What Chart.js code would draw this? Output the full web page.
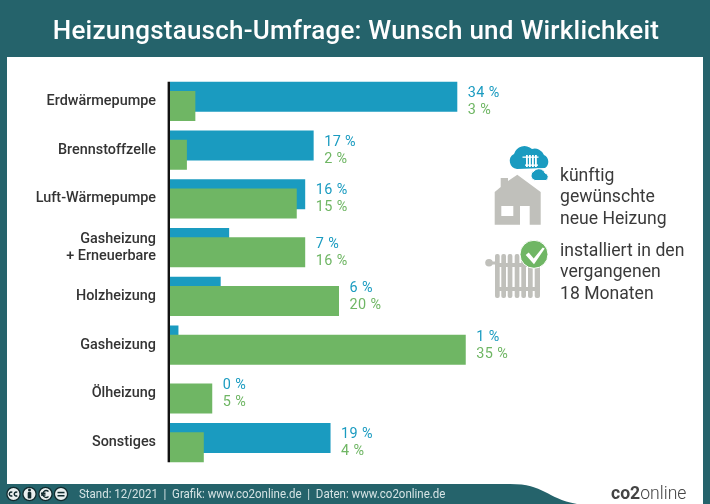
<!DOCTYPE html>
<html lang="de"><head><meta charset="utf-8">
<script src="https://cdn.jsdelivr.net/npm/chart.js@4"></script>
<style>
html,body{margin:0;padding:0;width:710px;height:504px;overflow:hidden;background:#25636b;font-family:Roboto,sans-serif}
#panel{position:absolute;left:7px;top:57px;width:696px;height:447px;background:#fff}
#art{position:absolute;left:0;top:0}
#wrap{position:absolute;left:0;top:0;width:710px;height:504px}
.t{position:absolute;white-space:nowrap}
#title{left:0;width:712px;top:14px;text-align:center;color:#fff;font-size:26px;line-height:32px;font-weight:500;letter-spacing:.23px}
.leg{left:560px;color:#3a3a3a;font-size:17.6px;line-height:21.3px}
#foot{left:79px;top:486px;color:#d5e3e4;font-size:13px;line-height:15px;transform:scaleX(.885);transform-origin:0 0}
#logo{left:611px;top:482px;color:#444;font-size:17.6px;line-height:22px;font-weight:300}
#logo b{font-weight:700}
</style></head><body>
<div id="panel"></div>
<svg id="art" width="710" height="504" viewBox="0 0 710 504">
  <path d="M7 484H510C545 484 545 498 577 504H7Z" fill="#25636b"/>
  <!-- house -->
  <path d="M494.7 192L500.7 187V178H508V181L517.3 174.7L540.7 192V224.7H529.7V206H520V224.7H494.7Z" fill="#c0c0bb"/>
  <rect x="501.3" y="206" width="12" height="10" fill="#fff"/>
  <!-- clouds -->
  <path d="M517 169a8 8 0 0 1-3-15a11 11 0 0 1 18-5a10 10 0 0 1 12 6a7.5 7.5 0 0 1 1 13l-28 1Z" fill="#1a9bc0"/>
  <path d="M535 180.500a5 5 0 0 1-1-9.500a6.500 6.500 0 0 1 11 2a4 4 0 0 1 1 7.500Z" fill="#1a9bc0" stroke="#fff" stroke-width="1"/>
  <g fill="#fff"><rect x="526" y="155" width="1.800" height="12"/><rect x="529" y="155" width="1.800" height="12"/><rect x="532" y="155" width="1.800" height="12"/><rect x="535" y="155" width="1.800" height="12"/><rect x="522.500" y="156.500" width="16" height="1.300"/><rect x="525" y="164.500" width="13" height="1.300"/></g>
  <!-- radiator -->
  <g fill="#c0c0bb">
    <circle cx="489" cy="262.700" r="3.800"/><rect x="489" y="261.500" width="7" height="3"/>
    <rect x="495" y="254" width="4.700" height="44" rx="2"/><rect x="501.300" y="254" width="4.700" height="44" rx="2"/><rect x="507.700" y="254" width="4.700" height="44" rx="2"/><rect x="514.700" y="254" width="4.700" height="44" rx="2"/><rect x="521.300" y="254" width="4.700" height="44" rx="2"/><rect x="528" y="254" width="4.700" height="44" rx="2"/><rect x="534.700" y="258" width="5.300" height="40" rx="2"/>
    <rect x="495" y="263" width="45" height="4"/><rect x="495" y="287" width="45" height="4"/>
  </g>
  <circle cx="534" cy="254.300" r="14" fill="#6fb664" stroke="#fff" stroke-width="1"/>
  <path d="M525.700 255l3-2.500l5 6l9-11l2 1l-10.700 15.800Z" fill="#fff"/>
  <!-- licence badges -->
  <g fill="#e8efef" stroke="#102a2e" stroke-width="1.300">
    <circle cx="13.500" cy="494" r="6.600"/><circle cx="29.500" cy="494" r="6.600"/><circle cx="45.500" cy="494" r="6.600"/><circle cx="61" cy="494" r="6.600"/>
  </g>
  <g fill="#102a2e">
    <circle cx="29.500" cy="490" r="1.500"/><rect x="27.700" y="492" width="3.600" height="6.500" rx="1"/>
    <rect x="57.500" y="491.800" width="7" height="1.500"/><rect x="57.500" y="495" width="7" height="1.500"/>
  </g>
  <g fill="none" stroke="#102a2e" stroke-width="1.400">
    <path d="M12.300 492.300a2 2 0 1 0 0 3.400M17.300 492.300a2 2 0 1 0 0 3.400"/>
    <path d="M48.500 491.500a3.400 3.400 0 1 0 0 5M41 493.300h4.500M41 495h4.500"/>
  </g>
</svg>
<div id="wrap"><canvas id="c" width="710" height="504"></canvas></div>
<div class="t" id="title">Heizungstausch-Umfrage: Wunsch und Wirklichkeit</div>
<div class="t leg" style="top:165px">künftig<br>gewünschte<br>neue Heizung</div>
<div class="t leg" style="top:240px">installiert in den<br>vergangenen<br>18 Monaten</div>
<div class="t" id="foot">Stand: 12/2021&nbsp; |&nbsp; Grafik: www.co2online.de&nbsp; |&nbsp; Daten: www.co2online.de</div>
<div class="t" id="logo"><b>co2</b>online</div>
<script>
const categories = ['Erdwärmepumpe','Brennstoffzelle','Luft-Wärmepumpe',['Gasheizung','+ Erneuerbare'],'Holzheizung','Gasheizung','Ölheizung','Sonstiges'];
const wunschValues = [34,17,16,7,6,1,0,19];
const installiertValues = [3,2,15,16,20,35,5,4];
const BLUE = '#1a9bc0', GREEN = '#6fb664';

const layering = {
  id: 'layering',
  // Blue sits behind green, so it is painted first.
  beforeDatasetsDraw(chart) { chart.getDatasetMeta(0).controller.draw(); },
  beforeDatasetDraw(chart, args) { if (args.index === 0) return false; },
  afterDatasetsDraw(chart) {
    const ctx = chart.ctx, b = chart.getDatasetMeta(0).data, g = chart.getDatasetMeta(1).data;
    const x0 = chart.scales.x.getPixelForValue(0);
    ctx.save();
    ctx.fillStyle = '#111';
    const top = b[0].y - b[0].height / 2, bottom = g[g.length - 1].y + g[g.length - 1].height / 2;
    ctx.fillRect(x0 - 2.4, top, 2.4, bottom - top);
    ctx.font = '400 14.4px Roboto';
    ctx.textBaseline = 'middle';
    if ('letterSpacing' in ctx) ctx.letterSpacing = '.4px';
    categories.forEach((_, i) => {
      const x = Math.max(b[i].x, g[i].x) + 10.5;
      // the two-line category carries its value labels a little lower
      const mid = (b[i].y + g[i].y) / 2 + (Array.isArray(categories[i]) ? 5 : 0);
      ctx.fillStyle = BLUE;  ctx.fillText(wunschValues[i] + ' %', x, mid - 8);
      ctx.fillStyle = GREEN; ctx.fillText(installiertValues[i] + ' %', x, mid + 9);
    });
    ctx.restore();
  }
};

new Chart(document.getElementById('c'), {
  type: 'bar',
  plugins: [layering],
  data: {
    labels: categories,
    datasets: [
      { label: 'künftig gewünschte neue Heizung', data: wunschValues, backgroundColor: BLUE },
      { label: 'installiert in den vergangenen 18 Monaten', data: installiertValues, backgroundColor: GREEN }
    ]
  },
  options: {
    indexAxis: 'y',
    responsive: false,
    animation: false,
    devicePixelRatio: 1,
    categoryPercentage: 0.38,
    barPercentage: 3.24,
    layout: { padding: { top: 77, bottom: 37, left: 0, right: 33 } },
    plugins: { legend: { display: false }, title: { display: false }, tooltip: { enabled: false } },
    scales: {
      x: { display: false, min: 0, max: 60 },
      y: {
        afterFit(s) { s.width = 170; },
        border: { display: false },
        grid: { display: false, drawTicks: false },
        ticks: { color: '#333', padding: 14, font: { family: 'Roboto', size: 14.4, weight: '500', lineHeight: 1.2 }, autoSkip: false }
      }
    }
  }
});
</script>
</body></html>
